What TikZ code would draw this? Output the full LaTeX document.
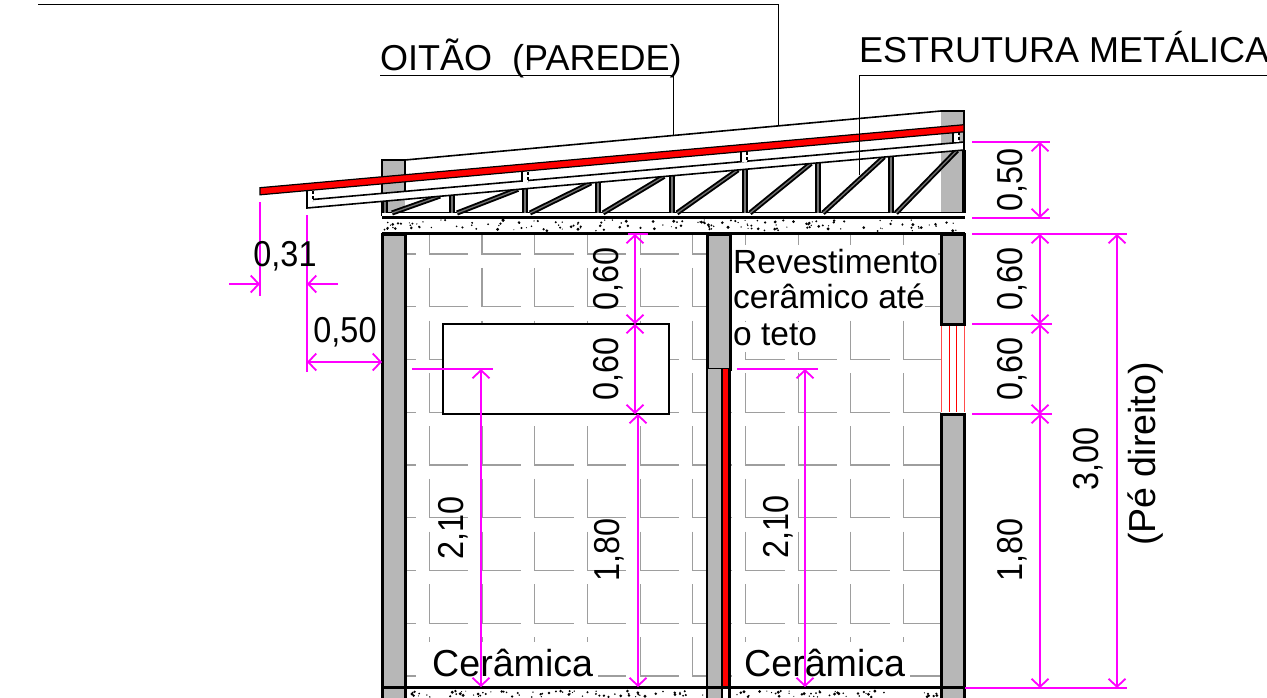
\documentclass[tikz,border=0pt]{standalone}
\usepackage{fontspec}
\setmainfont{Liberation Sans}
\newfontfamily\dimfont[FakeStretch=0.9]{Liberation Sans}
\usetikzlibrary{arrows.meta}
\definecolor{wallgray}{RGB}{183,183,183}
\definecolor{dimcolor}{RGB}{255,0,255}
\tikzset{
    wall/.style={fill=wallgray, draw=black, line width=3pt},
    tileline/.style={draw=black!38, line width=1.1pt},
    leader/.style={draw=black, line width=0.9pt},
    dimext/.style={draw=dimcolor, line width=2pt},
    dimline/.style={draw=dimcolor, line width=2pt, {Straight Barb[length=8pt,width=17pt,line width=1.8pt]}-{Straight Barb[length=8pt,width=17pt,line width=1.8pt]}},
    dimtip/.style={draw=dimcolor, line width=2pt, -{Straight Barb[length=8pt,width=17pt,line width=1.8pt]}},
    trussbar/.style={draw=black, double=black!55, double distance=1.3pt, line width=1.9pt},
    bigtext/.style={font=\fontsize{36}{40}\selectfont, anchor=base west, inner sep=0pt},
    walltext/.style={font=\fontsize{33.5}{36}\selectfont, anchor=base west, inner sep=0pt, fill=white},
    floortext/.style={font=\fontsize{37.6}{40}\selectfont, anchor=base west, inner xsep=5pt, inner ysep=0pt, fill=white, text height=34pt, text depth=11pt},
    dimtext/.style={font=\dimfont\fontsize{36}{40}\selectfont, inner sep=0pt, anchor=base},
}
\begin{document}
\begin{tikzpicture}[x=1pt, y=-1pt]
    \useasboundingbox (0,0) rectangle (1267,697);
    % tiles
    \begin{scope}
        \clip (406,234) rectangle (707,687) (730,234) rectangle (941,687);
        \foreach \i in {0,...,11} {
            \foreach \j in {0,...,8} {
                \pgfmathsetmacro{\tx}{376.6+52.7*\i}
                \pgfmathsetmacro{\ty}{254+52.75*\j}
                \draw[tileline] (\tx,\ty-39) -- (\tx,\ty) -- (\tx+39,\ty);
            }
        }
    \end{scope}
    \node[walltext, text height=28pt, text depth=8pt] (revesta) at (733,273) {Revestimento};
    \node[walltext, text height=27pt, text depth=12pt] (revestb) at (733,308) {cerâmico até};
    \node[walltext, text height=23pt, text depth=7pt] (revestc) at (733,345) {o teto};
    \node[floortext] (pisoa) at (427,676) {Cerâmica};
    \node[floortext] (pisob) at (739,676) {Cerâmica};
    % walls
    \fill[wallgray] (382,160) rectangle (405,216);
    \draw[black, line width=2.4pt] (405,193) |- (382,160) -- (382,216);
    \draw[wall] (382,234) rectangle (405,700);
    \fill[wallgray] (941,111) rectangle (964,216);
    \draw[black, line width=2pt] (941,111) -- (964,111) -- (964,150);
    \draw[black, line width=3.6pt] (964,150) -- (964,213);
    \draw[wall] (941,234) rectangle (964,324);
    \draw[wall] (941,414) rectangle (964,700);
    \draw[red!70, line width=0.9pt] (941,326) -- (941,412) (964,326) -- (964,412);
    \draw[red, line width=0.9pt] (949,326) -- (949,412) (956,326) -- (956,412);
    \draw[wall] (707,234) rectangle (730,369);
    \fill[wallgray] (707,369) rectangle (722,700);
    \fill[red] (722,369) rectangle (729.5,687);
    \draw[black, line width=2.6pt] (707,369) -- (707,700) (722,369) -- (722,700) (729.5,369) -- (729.5,700);
    % window
    \draw[fill=white, line width=1.8pt] (443,324) rectangle (669,414);
    % slabs
    \fill[white] (382,213) rectangle (964,233);
    \pgfmathsetseed{11}
    \foreach \k in {1,...,150} {
        \pgfmathsetmacro{\sx}{384+rnd*578}
        \pgfmathsetmacro{\sy}{220+rnd*11}
        \pgfmathsetmacro{\sr}{0.55+1.1*rnd}
        \fill (\sx,\sy) circle [radius=\sr pt];
    }
    \foreach \k in {1,...,70} {
        \pgfmathsetmacro{\sx}{408+rnd*297}
        \pgfmathsetmacro{\sy}{691+rnd*6}
        \pgfmathsetmacro{\sr}{0.55+1.1*rnd}
        \fill (\sx,\sy) circle [radius=\sr pt];
    }
    \foreach \k in {1,...,50} {
        \pgfmathsetmacro{\sx}{733+rnd*206}
        \pgfmathsetmacro{\sy}{691+rnd*6}
        \pgfmathsetmacro{\sr}{0.55+1.1*rnd}
        \fill (\sx,\sy) circle [radius=\sr pt];
    }
    \draw[line width=1.2pt] (382,212.5) -- (964,212.5);
    \draw[line width=2.8pt] (382,217.5) -- (965,217.5);
    \draw[line width=3pt] (382,233.5) -- (965,233.5);
    \draw[line width=2.6pt] (382,687.5) -- (964,687.5);
    % truss
    \draw[trussbar] (385,213) -- (385,198);
    \draw[trussbar] (392,213) -- (440,196);
    \foreach \vx in {452,525,598,672,745,818,891} {
        \pgfmathsetmacro{\ta}{208-0.0886*(\vx-307)}
        \pgfmathsetmacro{\tb}{208-0.0886*(\vx+66-307)}
        \draw[trussbar] (\vx,213) -- (\vx,\ta);
        \draw[trussbar] (\vx+5,213) -- (\vx+66,\tb);
    }
    % purlin and sheet
    \draw[fill=white, line width=1.6pt] (307,200) -- (964,142) -- (964,150) -- (307,208) -- cycle;
    \foreach \cx/\cy in {307/191, 522/172, 741/152, 953/132} {
        \fill[white] (\cx,\cy) rectangle (\cx+6,\cy+10);
        \draw[line width=1.4pt] (\cx,\cy) -- (\cx,\cy+10);
        \draw[line width=2.2pt, dash pattern=on 2.5pt off 2.5pt] (\cx+6,\cy) -- (\cx+6,\cy+10);
    }
    \draw[line width=1.6pt] (405,160) -- (941,111);
    \draw[fill=red, line width=1.2pt] (260,187.7) -- (964,124.7) -- (964,131.8) -- (260,194.8) -- cycle;
    % leaders
    \draw[leader] (38,4) -- (778,4) -- (778,126);
    \draw[leader] (380,75) -- (673,75) -- (673,136);
    \draw[leader] (1267,75) -- (859,75) -- (859,175);
    \node[bigtext] (oitao) at (380,70) {OITÃO\ \ (PAREDE)};
    \node[bigtext] (estrutura) at (859,62) {ESTRUTURA METÁLICA};
    % dimensions, roof
    \draw[dimext] (260,202) -- (260,296);
    \draw[dimext] (307,215) -- (307,372);
    \draw[dimtip] (229,284) -- (260,284);
    \draw[dimtip] (338,284) -- (307,284);
    \draw[dimline] (307,362) -- (382,362);
    \node[dimtext] (dimbeiral) at (285,266) {0,31};
    \node[dimtext] (dimoitao) at (345,342) {0,50};
    % dimensions, right side
    \draw[dimext] (972,142) -- (1050,142);
    \draw[dimext] (972,218) -- (1050,218);
    \draw[dimext] (972,234) -- (1127,234);
    \draw[dimext] (972,324) -- (1052,324);
    \draw[dimext] (972,414) -- (1052,414);
    \draw[dimext] (965,688) -- (1127,688);
    \draw[dimline] (1040,142) -- (1040,218);
    \draw[dimline] (1040,234) -- (1040,324);
    \draw[dimline] (1040,324) -- (1040,414);
    \draw[dimline] (1040,414) -- (1040,688);
    \draw[dimline] (1117,234) -- (1117,688);
    \node[dimtext, rotate=90] (dimtopo) at (1022,180) {0,50};
    \node[dimtext, rotate=90] (dimverga) at (1022,279) {0,60};
    \node[dimtext, rotate=90] (dimjanela) at (1022,369) {0,60};
    \node[dimtext, rotate=90] (dimpeitoril) at (1022,550) {1,80};
    \node[dimtext, rotate=90] (dimtotal) at (1098,459) {3,00};
    \node[rotate=90, font=\fontsize{37.6}{40}\selectfont, inner sep=0pt, anchor=base] (pedireito) at (1155,454) {(Pé direito)};
    % dimensions, inside
    \draw[dimext] (628,234) -- (648,234);
    \draw[dimline] (635,234) -- (635,324);
    \draw[dimline] (635,324) -- (635,414);
    \draw[dimline] (638,414) -- (638,687);
    \draw[dimext] (412,369) -- (493,369);
    \draw[dimline] (481,369) -- (481,687);
    \draw[dimext] (737,369) -- (818,369);
    \draw[dimline] (805,369) -- (805,687);
    \node[dimtext, rotate=90] (dimvergab) at (618,279) {0,60};
    \node[dimtext, rotate=90] (dimjanelab) at (618,369) {0,60};
    \node[dimtext, rotate=90] (dimpeitorilb) at (619,550) {1,80};
    \node[dimtext, rotate=90] (dimportaa) at (463,528) {2,10};
    \node[dimtext, rotate=90] (dimportab) at (788,527) {2,10};
\end{tikzpicture}
\end{document}
